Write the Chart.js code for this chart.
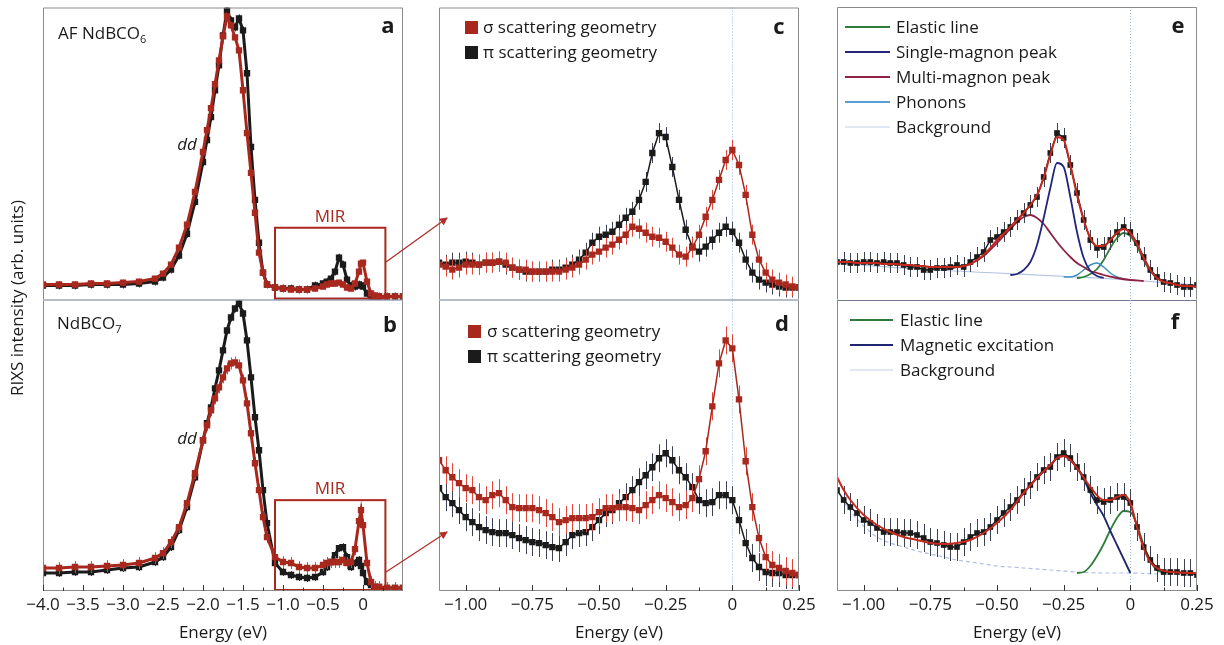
<!DOCTYPE html>
<html>
<head>
<meta charset="utf-8">
<script src="https://cdn.jsdelivr.net/npm/chart.js@4.4.1/dist/chart.umd.min.js"></script>
<style>
  body { margin: 0; background: #fff; }
  #fig { position: relative; width: 1224px; height: 645px; overflow: hidden; font-family: 'Open Sans', sans-serif; color: #1a1a1a; }
  .box { position: absolute; }
  .lbl { position: absolute; font-size: 17px; line-height: 1; white-space: nowrap; transform: translateY(-50%); }
  .mid { transform: translate(-50%, -50%); }
  .tag { position: absolute; font-size: 22px; font-weight: bold; line-height: 1; transform: translate(-50%, -50%); }
  sub { font-size: 11px; vertical-align: -4px; line-height: 0; }
  svg { position: absolute; left: 0; top: 0; }
</style>
</head>
<body>
<div id="fig">
  <div class="box"><canvas id="chartA"></canvas></div>
  <div class="box"><canvas id="chartB"></canvas></div>
  <div class="box"><canvas id="chartC"></canvas></div>
  <div class="box"><canvas id="chartD"></canvas></div>
  <div class="box"><canvas id="chartE"></canvas></div>
  <div class="box"><canvas id="chartF"></canvas></div>

  <svg width="1224" height="645">
    <defs>
      <marker id="head" markerWidth="8" markerHeight="8" refX="7" refY="4" orient="auto" markerUnits="userSpaceOnUse">
        <path d="M0,0 L8,4 L0,8 z" fill="#b0302a"/>
      </marker>
    </defs>
    <line x1="386" y1="262" x2="447" y2="218" stroke="#b0302a" stroke-width="1.3" marker-end="url(#head)"/>
    <line x1="386" y1="572" x2="447" y2="532" stroke="#b0302a" stroke-width="1.3" marker-end="url(#head)"/>
  </svg>

  <div class="lbl" style="left:58px;top:32px">AF NdBCO<sub>6</sub></div>
  <div class="lbl" style="left:57px;top:322px">NdBCO<sub>7</sub></div>
  <div class="lbl mid" style="left:187px;top:143px;font-style:italic">dd</div>
  <div class="lbl mid" style="left:187px;top:437px;font-style:italic">dd</div>
  <div class="lbl mid" style="left:330px;top:215px;color:#a8281e">MIR</div>
  <div class="lbl mid" style="left:330px;top:487px;color:#a8281e">MIR</div>
  <div class="tag" style="left:388px;top:24px">a</div>
  <div class="tag" style="left:390px;top:323px">b</div>
  <div class="tag" style="left:779px;top:25px">c</div>
  <div class="tag" style="left:782px;top:322px">d</div>
  <div class="tag" style="left:1178px;top:24px">e</div>
  <div class="tag" style="left:1175px;top:320px">f</div>
  <div class="lbl mid" style="left:16px;top:298px;transform:translate(-50%,-50%) rotate(-90deg)">RIXS intensity (arb. units)</div>
</div>

<script>
// energy grids (eV)
const energyWide = [-4.0, -3.8, -3.6, -3.4, -3.2, -3.0, -2.8, -2.6, -2.5, -2.4,
  -2.3, -2.2, -2.1, -2.0, -1.95, -1.9, -1.85, -1.8, -1.75, -1.7,
  -1.65, -1.6, -1.55, -1.5, -1.45, -1.4, -1.35, -1.3, -1.25, -1.2,
  -1.1, -1.0, -0.9, -0.8, -0.7, -0.6, -0.5, -0.45, -0.4, -0.35,
  -0.3, -0.25, -0.2, -0.15, -0.1, -0.05, -0.025, 0, 0.05, 0.1,
  0.15, 0.2, 0.3, 0.4, 0.5];
const energyNarrow = [-1.1, -1.075, -1.05, -1.025, -1.0, -0.975, -0.95, -0.925, -0.9, -0.875,
  -0.85, -0.825, -0.8, -0.775, -0.75, -0.725, -0.7, -0.675, -0.65, -0.625,
  -0.6, -0.575, -0.55, -0.525, -0.5, -0.475, -0.45, -0.425, -0.4, -0.375,
  -0.35, -0.325, -0.3, -0.275, -0.25, -0.225, -0.2, -0.175, -0.15, -0.125,
  -0.1, -0.075, -0.05, -0.025, 0, 0.025, 0.05, 0.075, 0.1, 0.125,
  0.15, 0.175, 0.2, 0.225, 0.25];

// panel a: AF NdBCO6
const sigmaA = [15, 15, 15, 16, 16, 17, 18, 21, 26, 35,
  52, 75, 108, 148, 170, 192, 216, 240, 264, 284,
  275, 263, 250, 210, 167, 127, 87, 47, 27, 15,
  12, 11, 10, 10, 10, 11, 13, 15, 16, 16,
  17, 15, 12, 11, 16, 28, 36, 37, 18, 6,
  4, 3, 3, 3, 3];
const piA = [14, 14, 14, 15, 15, 15, 16, 18, 22, 30,
  44, 66, 98, 138, 160, 183, 210, 235, 265, 290,
  280, 273, 282, 270, 227, 153, 100, 57, 27, 15,
  12, 11, 11, 10, 10, 14, 16, 18, 21, 28,
  42, 35, 20, 14, 13, 15, 14, 13, 6, 3,
  3, 3, 3, 3, 3];

// panel b: NdBCO7
const sigmaB = [23, 23, 24, 24, 25, 26, 28, 33, 38, 49,
  64, 88, 118, 151, 166, 181, 193, 204, 214, 223,
  228, 229, 226, 211, 188, 158, 128, 101, 74, 54,
  34, 29, 28, 24, 23, 23, 26, 28, 29, 29,
  29, 31, 28, 29, 42, 70, 81, 66, 28, 9,
  4, 4, 3, 3, 3];
const piB = [18, 18, 19, 19, 21, 23, 24, 29, 34, 44,
  61, 84, 114, 151, 168, 184, 203, 221, 241, 261,
  274, 283, 288, 278, 251, 214, 174, 141, 101, 68,
  28, 19, 16, 14, 13, 14, 19, 24, 29, 36,
  43, 44, 34, 24, 28, 31, 25, 18, 9, 6,
  4, 4, 3, 3, 3];

// panel c / d: MIR zoom
const sigmaC = [35, 33, 30, 32, 35, 35, 35, 37, 37, 38,
  37, 32, 30, 30, 28, 28, 28, 28, 28, 30,
  32, 35, 40, 45, 48, 52, 55, 60, 65, 73,
  71, 67, 63, 62, 58, 52, 45, 43, 52, 65,
  83, 100, 120, 140, 150, 135, 105, 65, 40, 27,
  20, 17, 15, 13, 12];
const piC = [37, 35, 37, 37, 38, 37, 35, 37, 37, 38,
  35, 32, 30, 28, 28, 28, 28, 30, 30, 32,
  35, 40, 47, 57, 63, 65, 68, 75, 82, 88,
  100, 118, 147, 167, 163, 133, 100, 70, 53, 48,
  53, 60, 67, 73, 68, 57, 40, 27, 20, 17,
  15, 13, 12, 12, 12];
const sigmaD = [131, 121, 114, 108, 103, 101, 94, 91, 96, 98,
  91, 84, 83, 83, 83, 81, 78, 74, 69, 71,
  73, 73, 73, 74, 79, 83, 83, 84, 84, 83,
  81, 86, 91, 96, 93, 89, 84, 86, 93, 112,
  140, 185, 228, 251, 243, 192, 130, 84, 53, 34,
  26, 23, 20, 18, 16];
const piD = [103, 94, 88, 81, 74, 69, 64, 61, 59, 58,
  58, 56, 53, 51, 49, 48, 46, 44, 43, 49,
  56, 58, 59, 64, 71, 78, 81, 88, 94, 101,
  109, 116, 124, 133, 138, 131, 121, 114, 104, 91,
  88, 89, 96, 96, 91, 71, 48, 33, 24, 19,
  18, 18, 16, 16, 16];

// panel e: data + fit components
const dataE = [38, 38, 37, 37, 38, 38, 37, 38, 37, 37,
  35, 33, 33, 30, 30, 32, 32, 33, 35, 33,
  38, 43, 48, 60, 63, 68, 73, 80, 87, 95,
  103, 123, 147, 167, 162, 135, 107, 80, 60, 52,
  53, 60, 68, 73, 68, 57, 43, 30, 23, 18,
  17, 15, 13, 13, 15];
const fitE = [38, 38, 38, 37, 37, 37, 37, 36, 36, 36,
  35, 35, 34, 34, 33, 33, 33, 33, 33, 34,
  36, 40, 45, 52, 60, 66, 73, 80, 87, 95,
  105, 122, 145, 163, 160, 135, 105, 80, 62, 54,
  54, 60, 67, 71, 67, 56, 42, 30, 22, 18,
  17, 15, 14, 14, 13];
const bgEnergyE = [-1.1, -0.8, -0.5, -0.2, 0, 0.25];
const bgE = [37, 31, 27, 23, 20, 15];
const singleEnergyE = [-0.45, -0.425, -0.4, -0.375, -0.35, -0.325, -0.3, -0.275, -0.25, -0.225, -0.2, -0.175, -0.15, -0.125, -0.1];
const singleE = [25, 26, 30, 38, 55, 82, 112, 137, 133, 103, 68, 42, 29, 24, 22];
const multiEnergyE = [-0.7, -0.65, -0.6, -0.55, -0.5, -0.475, -0.45, -0.425, -0.4, -0.375, -0.35, -0.325,
  -0.3, -0.275, -0.25, -0.225, -0.2, -0.175, -0.15, -0.125, -0.1, -0.05, 0, 0.05];
const multiE = [30, 33, 36, 44, 57, 64, 71, 78, 83, 85, 82, 76, 67, 58, 50, 43, 37, 33, 29, 27, 25, 22, 20, 19];
const phononEnergyE = [-0.25, -0.225, -0.2, -0.175, -0.15, -0.125, -0.1, -0.075, -0.05, -0.025];
const phononE = [23, 23, 25, 30, 35, 37, 33, 27, 23, 21];
const elasticEnergyE = [-0.2, -0.175, -0.15, -0.125, -0.1, -0.075, -0.05, -0.025, 0, 0.025, 0.05, 0.075, 0.1, 0.125];
const elasticE = [22, 23, 26, 31, 40, 52, 62, 67, 64, 54, 40, 29, 22, 19];

// panel f
const dataF = [101, 91, 84, 78, 71, 68, 63, 59, 59, 59,
  58, 58, 56, 53, 49, 48, 46, 44, 44, 49,
  54, 58, 59, 64, 71, 78, 84, 91, 99, 106,
  114, 121, 124, 134, 138, 133, 124, 114, 101, 91,
  89, 91, 94, 94, 88, 64, 44, 31, 23, 19,
  19, 19, 18, 18, 16];
const fitEnergyF = [-1.1, -1.075, -1.05, -1.0, -0.95, -0.9, -0.85, -0.8, -0.75, -0.7, -0.65, -0.6, -0.55, -0.5,
  -0.45, -0.4, -0.35, -0.3, -0.275, -0.25, -0.225, -0.2, -0.15, -0.1, -0.075, -0.05, -0.025, 0,
  0.025, 0.05, 0.075, 0.1, 0.15, 0.25];
const fitF = [114, 101, 91, 76, 66, 59, 54, 51, 48, 47, 48, 51, 58, 68,
  81, 98, 113, 126, 133, 135, 131, 123, 104, 91, 91, 94, 96, 88,
  64, 43, 29, 23, 19, 18];
const bgEnergyF = [-1.1, -1.05, -1.0, -0.95, -0.9, -0.85, -0.8, -0.75, -0.7, -0.65, -0.6, -0.55, -0.5, -0.45, -0.4, -0.3, -0.2, -0.1, 0, 0.1, 0.25];
const bgF = [100, 80, 65, 54, 48, 44, 40, 37, 34, 31, 29, 27, 25, 24, 23, 21, 19, 18, 18, 17, 16];
const magEnergyF = [-0.45, -0.4, -0.35, -0.3, -0.275, -0.25, -0.225, -0.2, -0.175, -0.15, -0.125, -0.1, -0.075, -0.05, -0.025, 0];
const magF = [81, 98, 113, 126, 133, 135, 131, 123, 112, 98, 86, 75, 60, 46, 32, 18];
const elasticEnergyF = [-0.2, -0.175, -0.15, -0.125, -0.1, -0.075, -0.05, -0.025, 0, 0.025, 0.05, 0.075, 0.1, 0.125];
const elasticF = [18, 19, 25, 35, 47, 61, 73, 80, 79, 66, 46, 30, 21, 18];

// ticks
const ticksWide = [-4.0, -3.5, -3.0, -2.5, -2.0, -1.5, -1.0, -0.5, 0];
const tickLabelsWide = ['−4.0', '−3.5', '−3.0', '−2.5', '−2.0', '−1.5', '−1.0', '−0.5', '0'];
const minorWide = [-3.75, -3.25, -2.75, -2.25, -1.75, -1.25, -0.75, -0.25, 0.25];
const ticksNarrow = [-1.0, -0.75, -0.5, -0.25, 0, 0.25];
const tickLabelsNarrow = ['−1.00', '−0.75', '−0.50', '−0.25', '0', '0.25'];
const minorNarrow = [-0.875, -0.625, -0.375, -0.125, 0.125];

// layout
const FONT = "'Open Sans', sans-serif";
const COL_X = [43, 439, 837];
const W = 360, TOP_Y = 7, MID_Y = 300, BOT_Y = 591;
const PAD = 30, PT = 4, AXIS_H = 52;

const RED = '#a8281e', RED_ERR = '#e2453a', BLACK = '#1b1b1b', BLACK_ERR = '#3c4252';

Chart.defaults.font.family = FONT;

const pts = (xs, ys) => xs.map((x, i) => ({ x: x, y: ys[i] }));

function measured(label, xs, ys, color, errColor, err, r, bw, rank) {
  return {
    label: label, data: pts(xs, ys), borderColor: color, backgroundColor: color,
    borderWidth: bw, pointStyle: 'rect', pointRadius: r, pointBorderWidth: 0,
    pointBackgroundColor: color, tension: 0, err: err, errColor: errColor, legendRank: rank
  };
}

function curve(label, xs, ys, color, bw, rank, dash, legendColor) {
  return {
    label: label, data: pts(xs, ys), borderColor: color, borderWidth: bw, pointRadius: 0,
    cubicInterpolationMode: 'monotone', borderDash: dash || [], legendRank: rank, legendColor: legendColor
  };
}

const decor = {
  id: 'decor',
  beforeDatasetsDraw(chart, args, o) {
    if (!o.zero) return;
    const ctx = chart.ctx, a = chart.chartArea;
    const x = Math.round(chart.scales.x.getPixelForValue(0)) + 0.5;
    ctx.save();
    ctx.strokeStyle = '#9db1d8';
    ctx.lineWidth = 1;
    ctx.setLineDash([1, 2]);
    ctx.beginPath(); ctx.moveTo(x, a.top); ctx.lineTo(x, a.bottom); ctx.stroke();
    ctx.restore();
  },
  // error bars go under each series
  beforeDatasetDraw(chart, args) {
    const ds = chart.data.datasets[args.index];
    if (!ds.err) return;
    const ctx = chart.ctx, a = chart.chartArea, ys = chart.scales.y;
    ctx.save();
    ctx.beginPath(); ctx.rect(a.left, a.top, a.right - a.left, a.bottom - a.top); ctx.clip();
    ctx.strokeStyle = ds.errColor;
    ctx.lineWidth = 1;
    args.meta.data.forEach((p, i) => {
      const v = ds.data[i].y;
      const x = Math.round(p.x) + 0.5;
      ctx.beginPath();
      ctx.moveTo(x, ys.getPixelForValue(v - ds.err));
      ctx.lineTo(x, ys.getPixelForValue(v + ds.err));
      ctx.stroke();
    });
    ctx.restore();
  },
  afterDatasetsDraw(chart, args, o) {
    if (!o.mir) return;
    const ctx = chart.ctx, a = chart.chartArea, s = chart.scales;
    const x0 = s.x.getPixelForValue(o.mir.from), x1 = s.x.getPixelForValue(o.mir.to);
    const y0 = s.y.getPixelForValue(o.mir.top);
    ctx.save();
    ctx.strokeStyle = RED;
    ctx.lineWidth = 2;
    ctx.strokeRect(x0, y0, x1 - x0, a.bottom - 1 - y0);
    ctx.restore();
  },
  afterDraw(chart, args, o) {
    const ctx = chart.ctx, a = chart.chartArea, xs = chart.scales.x;
    const L0 = a.left + 0.5, R0 = a.right - 0.5, T0 = a.top + 0.5, B0 = a.bottom - 0.5;
    ctx.save();
    ctx.lineWidth = 1;
    ctx.strokeStyle = '#8a8a8a';
    ctx.beginPath();
    if (o.ticks) {
      // lower panel: the shared divider is drawn by the upper panel
      ctx.moveTo(L0, a.top); ctx.lineTo(L0, B0); ctx.lineTo(R0, B0); ctx.lineTo(R0, a.top);
    } else {
      ctx.moveTo(L0, B0); ctx.lineTo(L0, T0); ctx.lineTo(R0, T0); ctx.lineTo(R0, B0);
    }
    ctx.stroke();
    if (!o.ticks) {
      ctx.strokeStyle = '#6d7894';
      ctx.beginPath(); ctx.moveTo(a.left, a.bottom + 0.5); ctx.lineTo(a.right, a.bottom + 0.5); ctx.stroke();
    }
    if (o.ticks) {
      ctx.strokeStyle = '#333';
      xs.ticks.forEach(t => {
        const x = Math.round(xs.getPixelForValue(t.value)) + 0.5;
        ctx.beginPath(); ctx.moveTo(x, a.bottom); ctx.lineTo(x, a.bottom - 6); ctx.stroke();
      });
      o.minor.forEach(v => {
        const x = Math.round(xs.getPixelForValue(v)) + 0.5;
        ctx.beginPath(); ctx.moveTo(x, a.bottom); ctx.lineTo(x, a.bottom - 3.5); ctx.stroke();
      });
    }
    if (o.legend) {
      const L = o.legend;
      const items = chart.data.datasets.filter(d => d.legendRank).sort((p, q) => p.legendRank - q.legendRank);
      ctx.font = '17px ' + FONT;
      ctx.textBaseline = 'middle';
      items.forEach((d, i) => {
        const y = a.top + L.y + i * L.gap;
        const c = d.legendColor || d.borderColor;
        if (L.kind === 'box') {
          ctx.fillStyle = c;
          ctx.fillRect(a.left + L.x, y - 6.5, 13, 13);
        } else {
          ctx.strokeStyle = c;
          ctx.lineWidth = 2;
          ctx.beginPath(); ctx.moveTo(a.left + L.x, y); ctx.lineTo(a.left + L.x + L.len, y); ctx.stroke();
        }
        ctx.fillStyle = '#1a1a1a';
        ctx.fillText(d.label, a.left + L.textX, y + 1);
      });
    }
    ctx.restore();
  }
};

function panel(id, col, row, datasets, deco) {
  const canvas = document.getElementById(id);
  const box = canvas.parentNode;
  const top = row === 0 ? TOP_Y - PT : MID_Y - PT;
  const h = row === 0 ? (MID_Y - TOP_Y) + 2 * PT : (BOT_Y - MID_Y) + PT + AXIS_H;
  box.style.left = (COL_X[col] - PAD) + 'px';
  box.style.top = top + 'px';
  box.style.width = (W + 2 * PAD) + 'px';
  box.style.height = h + 'px';

  const wide = col === 0;
  const majors = wide ? ticksWide : ticksNarrow;
  const labels = wide ? tickLabelsWide : tickLabelsNarrow;
  deco.ticks = row === 1;
  deco.minor = wide ? minorWide : minorNarrow;

  return new Chart(canvas, {
    type: 'line',
    data: { datasets: datasets },
    plugins: [decor],
    options: {
      responsive: true,
      maintainAspectRatio: false,
      animation: false,
      events: [],
      layout: { padding: { left: PAD, right: PAD, top: PT, bottom: row === 0 ? PT : 0 } },
      plugins: { legend: { display: false }, tooltip: { enabled: false }, decor: deco },
      scales: {
        x: {
          type: 'linear',
          min: wide ? -4.0 : -1.1,
          max: wide ? 0.5 : 0.25,
          display: row === 1,
          afterBuildTicks: s => { s.ticks = majors.map(v => ({ value: v })); },
          afterFit: s => { s.height = row === 1 ? AXIS_H : 0; },
          grid: { display: false, drawTicks: false },
          border: { display: false },
          ticks: {
            autoSkip: false, maxRotation: 0, padding: 4, color: '#1a1a1a',
            font: { size: 17 },
            callback: (v, i) => labels[i]
          },
          title: { display: true, text: 'Energy (eV)', color: '#1a1a1a', font: { size: 17 }, padding: { top: 0, bottom: 0 } }
        },
        y: { display: false, min: 0, max: row === 0 ? MID_Y - TOP_Y : BOT_Y - MID_Y }
      }
    }
  });
}

panel('chartA', 0, 0, [
  measured('σ', energyWide, sigmaA, RED, RED_ERR, 3, 4.5, 3),
  measured('π', energyWide, piA, BLACK, BLACK_ERR, 4, 4.5, 3)
], { mir: { from: -1.1, to: 0.28, top: 72 } });

panel('chartB', 0, 1, [
  measured('σ', energyWide, sigmaB, RED, RED_ERR, 6, 4.5, 3),
  measured('π', energyWide, piB, BLACK, BLACK_ERR, 4, 4.5, 3)
], { mir: { from: -1.1, to: 0.28, top: 91 } });

panel('chartC', 1, 0, [
  measured('σ scattering geometry', energyNarrow, sigmaC, RED, RED_ERR, 10, 4.5, 1.5, 1),
  measured('π scattering geometry', energyNarrow, piC, BLACK, BLACK_ERR, 10, 4.5, 1.5, 2)
], { zero: true, legend: { kind: 'box', x: 26, textX: 44, y: 20, gap: 25 } });

panel('chartD', 1, 1, [
  measured('σ scattering geometry', energyNarrow, sigmaD, RED, RED_ERR, 14, 4.5, 1.5, 1),
  measured('π scattering geometry', energyNarrow, piD, BLACK, BLACK_ERR, 14, 4.5, 1.5, 2)
], { zero: true, legend: { kind: 'box', x: 29, textX: 48, y: 31, gap: 25 } });

panel('chartE', 2, 0, [
  curve('Fit', energyNarrow, fitE, '#c8281e', 2),
  measured('Data', energyNarrow, dataE, BLACK, BLACK_ERR, 10, 4, 1.5),
  curve('Single-magnon peak', singleEnergyE, singleE, '#23267a', 1.8, 2),
  curve('Multi-magnon peak', multiEnergyE, multiE, '#8e2242', 1.8, 3),
  curve('Phonons', phononEnergyE, phononE, '#3d8fc2', 1.5, 4, null, '#5a9fd4'),
  curve('Elastic line', elasticEnergyE, elasticE, '#2f7d3a', 1.8, 1),
  curve('Background', bgEnergyE, bgE, '#b3c3e3', 1.2, 5, null, '#e2e8f3')
], { zero: true, legend: { kind: 'line', x: 8, len: 45, textX: 59, y: 20, gap: 25 } });

panel('chartF', 2, 1, [
  curve('Fit', fitEnergyF, fitF, '#c8281e', 2),
  measured('Data', energyNarrow, dataF, BLACK, BLACK_ERR, 14, 4, 1.5),
  curve('Magnetic excitation', magEnergyF, magF, '#1e2670', 1.8, 2),
  curve('Elastic line', elasticEnergyF, elasticF, '#2f7d3a', 1.8, 1),
  curve('Background', bgEnergyF, bgF, '#aebfe2', 1.2, 3, [4, 3], '#e2e8f3')
], { zero: true, legend: { kind: 'line', x: 13, len: 43, textX: 63, y: 20, gap: 25 } });
</script>
</body>
</html>
